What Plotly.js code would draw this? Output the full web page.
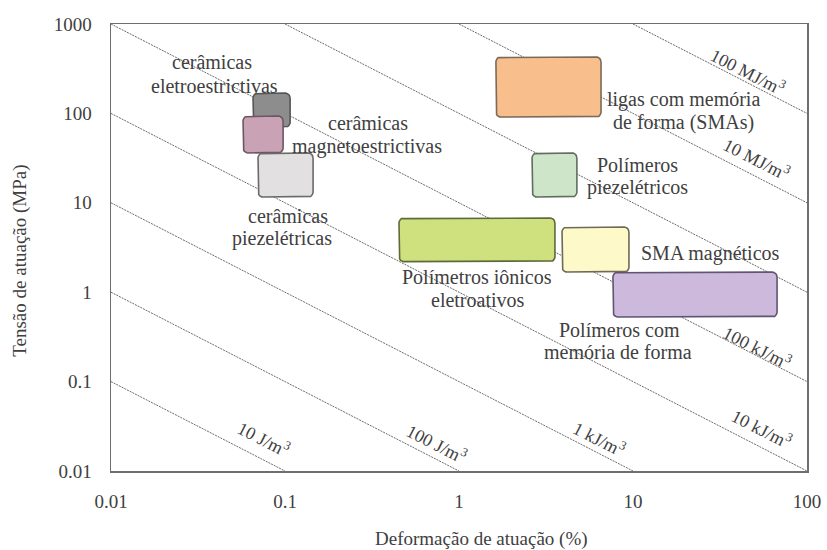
<!DOCTYPE html>
<html>
<head>
<meta charset="utf-8">
<script src="https://cdn.plot.ly/plotly-3.0.1.min.js"></script>
<style>html,body{margin:0;padding:0;background:#fff;}#chart{width:827px;height:550px;}</style>
</head>
<body>
<div id="chart"></div>
<script>
// ---- data ----
const materials = [
  "cerâmicas eletroestrictivas",
  "cerâmicas magnetoestrictivas",
  "cerâmicas piezelétricas",
  "ligas com memória de forma (SMAs)",
  "Polímeros piezelétricos",
  "Polímetros iônicos eletroativos",
  "SMA magnéticos",
  "Polímeros com memória de forma"
];
const strainMin = [0.0655, 0.0574, 0.070, 1.63, 2.63, 0.452, 3.91, 7.67];   // %
const strainMax = [0.107, 0.0975, 0.145, 6.55, 4.76, 3.56, 9.48, 67.3];     // %
const stressMin = [70, 36.1, 11.6, 91, 11.6, 2.2, 1.68, 0.528];             // MPa
const stressMax = [169, 93.5, 36.1, 428, 36.1, 6.76, 5.36, 1.68];           // MPa

const energyLevels = [10, 100, 1e3, 1e4, 1e5, 1e6, 1e7, 1e8];               // J/m^3
const energyLabels = ["10 J/m<sup>3</sup>", "100 J/m<sup>3</sup>", "1 kJ/m<sup>3</sup>",
  "10 kJ/m<sup>3</sup>", "100 kJ/m<sup>3</sup>", "", "10 MJ/m<sup>3</sup>", "100 MJ/m<sup>3</sup>"];

const xTickVals = [0.01, 0.1, 1, 10, 100];
const xTickText = ["0.01", "0.1", "1", "10", "100"];
const yTickVals = [0.01, 0.1, 1, 10, 100, 1000];
const yTickText = ["0.01", "0.1", "1", "10", "100", "1000"];

// ---- styles ----
const fillColors = ["#8d8d8d", "#c9a3b5", "#e2e0e0", "#f8be8c", "#cfe5ca", "#cfe07e", "#fdf9c9", "#cdb9dc"];
const lineColors = ["#555555", "#6e5560", "#6a6a6a", "#7a6a5a", "#5f6f5f", "#5f6a3a", "#6f6a55", "#5f5570"];
const FONT = "Liberation Serif, Times New Roman, DejaVu Serif, serif";
const TXT = "#404040";

const W = 827, H = 550, M = {l: 111, r: 20, t: 24, b: 79};
const plotW = W - M.l - M.r, plotH = H - M.t - M.b;
const xLogRange = [-2, 2], yLogRange = [-2, 3];
const pxPerDecX = plotW / (xLogRange[1] - xLogRange[0]);
const pxPerDecY = plotH / (yLogRange[1] - yLogRange[0]);

function roundedRect(x0, x1, y0, y1, rpx) {
  const lx0 = Math.log10(x0), lx1 = Math.log10(x1), ly0 = Math.log10(y0), ly1 = Math.log10(y1);
  const rx = rpx / pxPerDecX, ry = rpx / pxPerDecY;
  const corners = [
    [lx1 - rx, ly1 - ry, 0],
    [lx0 + rx, ly1 - ry, Math.PI / 2],
    [lx0 + rx, ly0 + ry, Math.PI],
    [lx1 - rx, ly0 + ry, 3 * Math.PI / 2]
  ];
  const xs = [], ys = [];
  corners.forEach(c => {
    for (let k = 0; k <= 6; k++) {
      const a = c[2] + (k / 6) * Math.PI / 2;
      xs.push(Math.pow(10, c[0] + rx * Math.cos(a)));
      ys.push(Math.pow(10, c[1] + ry * Math.sin(a)));
    }
  });
  xs.push(xs[0]); ys.push(ys[0]);
  return {x: xs, y: ys};
}

const traces = [];
// energy density lines: W = stress[MPa]*1e6 * strain[%]/100
energyLevels.forEach(Wv => {
  const k = Wv / 1e4;
  const xa = Math.max(0.01, k / 1000), xb = Math.min(100, k / 0.01);
  traces.push({
    x: [xa, xb], y: [k / xa, k / xb], mode: "lines", type: "scatter",
    line: {color: "#6a6a6a", width: 1, dash: "2px,1px"},
    hoverinfo: "skip", showlegend: false
  });
});
materials.forEach((m, i) => {
  const r = roundedRect(strainMin[i], strainMax[i], stressMin[i], stressMax[i], 5);
  traces.push({
    x: r.x, y: r.y, mode: "lines", type: "scatter", fill: "toself",
    fillcolor: fillColors[i], line: {color: lineColors[i], width: 1.6},
    name: m, hoverinfo: "name", showlegend: false
  });
});

// material labels, each line separately (log coords)
const labelLines = [
  ["cerâmicas", -1.420, 2.575], ["eletroestrictivas", -1.408, 2.306],
  ["cerâmicas", -0.523, 1.893], ["magnetoestrictivas", -0.529, 1.635],
  ["cerâmicas", -0.983, 0.852], ["piezelétricas", -1.017, 0.606],
  ["ligas com memória", 1.293, 2.150], ["de forma (SMAs)", 1.293, 1.893],
  ["Polímeros", 1.023, 1.423], ["piezelétricos", 1.023, 1.166],
  ["SMA magnéticos", 1.443, 0.438],
  ["Polímetros iônicos", 0.103, 0.170], ["eletroativos", 0.109, -0.087],
  ["Polímeros com", 0.925, -0.423], ["memória de forma", 0.914, -0.669]
];
const annotations = labelLines.map(l => ({
  text: l[0], x: l[1], y: l[2], xref: "x", yref: "y", showarrow: false,
  xanchor: "center", yanchor: "middle", font: {family: FONT, size: 20, color: TXT}
}));

// energy labels (log coords)
const energyLabelPos = [[-1.126, -1.642], [-0.126, -1.687], [0.805, -1.631], [1.741, -1.519],
  [1.718, -0.613], null, [1.707, 1.490], [1.661, 2.474]];
energyLabels.forEach((t, i) => {
  if (!t) return;
  annotations.push({
    text: t, x: energyLabelPos[i][0], y: energyLabelPos[i][1], xref: "x", yref: "y",
    showarrow: false, textangle: 27, xanchor: "center", yanchor: "middle",
    font: {family: FONT, size: 18, color: TXT}
  });
});

// axis titles
annotations.push({
  text: "Deformação de atuação (%)", xref: "paper", yref: "paper", x: 0.532, y: -0.152,
  showarrow: false, xanchor: "center", yanchor: "middle", font: {family: FONT, size: 19, color: TXT}
});
annotations.push({
  text: "Tensão de atuação (MPa)", xref: "paper", yref: "paper", x: -0.131, y: 0.470,
  showarrow: false, textangle: -90, xanchor: "center", yanchor: "middle",
  font: {family: FONT, size: 19, color: TXT}
});

const layout = {
  width: W, height: H,
  margin: M,
  paper_bgcolor: "#ffffff", plot_bgcolor: "#ffffff",
  showlegend: false,
  font: {family: FONT, size: 19, color: TXT},
  xaxis: {
    type: "log", range: xLogRange, tickvals: xTickVals, ticktext: xTickText,
    showgrid: false, zeroline: false, showline: true, mirror: true,
    linecolor: "#6e6e6e", linewidth: 1.5,
    ticks: "", ticklabelstandoff: 13,
    tickfont: {family: FONT, size: 19, color: TXT}
  },
  yaxis: {
    type: "log", range: yLogRange, tickvals: yTickVals, ticktext: yTickText,
    showgrid: false, zeroline: false, showline: true, mirror: true,
    linecolor: "#6e6e6e", linewidth: 1.5,
    ticks: "outside", ticklen: 14, tickcolor: "rgba(0,0,0,0)",
    tickfont: {family: FONT, size: 19, color: TXT}
  },
  annotations: annotations
};

Plotly.newPlot("chart", traces, layout, {staticPlot: true, displayModeBar: false});
</script>
</body>
</html>
